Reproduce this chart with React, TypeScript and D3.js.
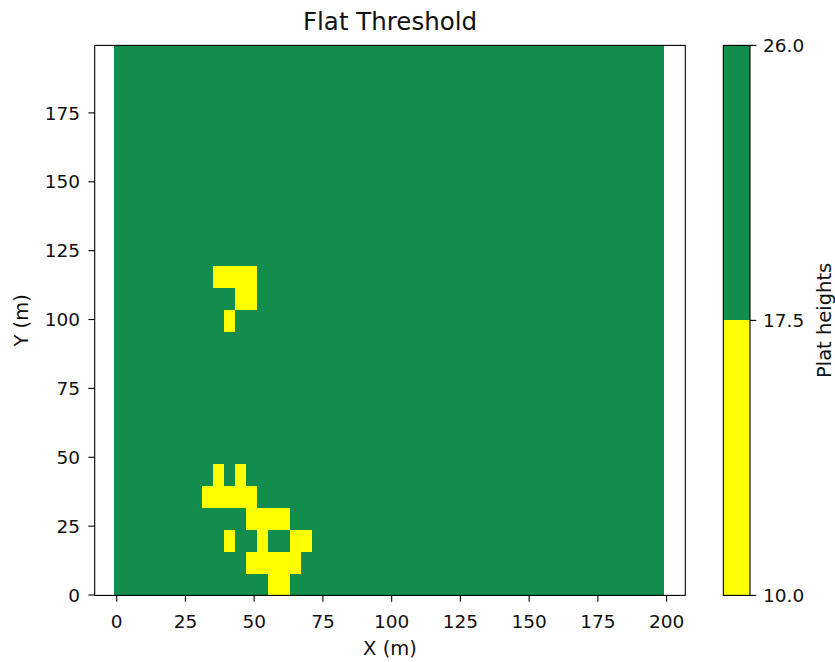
import React from 'react';
import * as d3 from 'd3';

const title = 'Flat Threshold';
const xLabel = 'X (m)';
const yLabel = 'Y (m)';
const cbLabel = 'Plat heights';
const xTicks = [0, 25, 50, 75, 100, 125, 150, 175, 200];
const yTicks = [0, 25, 50, 75, 100, 125, 150, 175];
const cbLevels = [10, 17.5, 26];
const cbColors = ['#ffff00', '#138d4b'];
// grid cell edges (m)
const xEdges = d3.range(-1, 200, 4);
const yEdges = d3.range(-0.5, 200, 8);
// cells below the 17.5 threshold: row index -> column indices
const lowRows = [0, 1, 2, 3, 4, 5, 12, 13, 14];
const lowCols = [
  [14, 15],
  [12, 13, 14, 15, 16],
  [10, 13, 16, 17],
  [12, 13, 14, 15],
  [8, 9, 10, 11, 12],
  [9, 11],
  [10],
  [11, 12],
  [9, 10, 11, 12],
];

const FONT = 'DejaVu Sans, sans-serif';
const TXT = '#111';
const L = 94.7, R = 685.3, T = 45.4, B = 595.4;
const CBL = 723.3, CBR = 750;

export default function App() {
  const x = d3.scaleLinear().domain([-8, 206.8]).range([L, R]);
  const y = d3.scaleLinear().domain([-0.5, 199.5]).range([596.4, T]);
  const cb = d3.scaleLinear().domain([0, cbLevels.length - 1]).range([B, T]);
  const color = d3.scaleThreshold<number, string>().domain([cbLevels[1]]).range(cbColors);

  const lowSet = new Set<string>();
  lowRows.forEach((r, i) => lowCols[i].forEach((c) => lowSet.add(`${r}-${c}`)));
  const cells: { r: number; c: number; v: number }[] = [];
  for (let r = 0; r < yEdges.length - 1; r++) {
    for (let c = 0; c < xEdges.length - 1; c++) {
      cells.push({ r, c, v: lowSet.has(`${r}-${c}`) ? cbLevels[0] : cbLevels[2] });
    }
  }

  return (
    <svg width={835} height={662} style={{ position: 'absolute', left: 0, top: 0, background: '#fff' }} fontFamily={FONT}>
      <defs>
        <clipPath id="axclip">
          <rect x={L} y={T} width={R - L} height={B - T} />
        </clipPath>
      </defs>
      <rect x={0} y={0} width={835} height={662} fill="#fff" />
      <g clipPath="url(#axclip)" shapeRendering="crispEdges">
        {cells.map((d) => (
          <rect
            key={`${d.r}-${d.c}`}
            x={x(xEdges[d.c])}
            y={y(yEdges[d.r + 1])}
            width={x(xEdges[d.c + 1]) - x(xEdges[d.c])}
            height={y(yEdges[d.r]) - y(yEdges[d.r + 1])}
            fill={color(d.v)}
          />
        ))}
      </g>
      <rect x={L} y={T} width={R - L} height={B - T} fill="none" stroke="#000" strokeWidth={1.1} />
      {xTicks.map((t) => (
        <g key={`xt${t}`}>
          <line x1={x(t)} x2={x(t)} y1={B} y2={B + 6.3} stroke="#000" strokeWidth={1.1} />
          <text x={x(t)} y={627.5} textAnchor="middle" fontSize={18.5} fill={TXT}>{t}</text>
        </g>
      ))}
      {yTicks.map((t) => (
        <g key={`yt${t}`}>
          <line x1={L - 6.3} x2={L} y1={y(t)} y2={y(t)} stroke="#000" strokeWidth={1.1} />
          <text x={80} y={y(t)} dy="0.36em" textAnchor="end" fontSize={18.5} fill={TXT}>{t}</text>
        </g>
      ))}
      <text x={(L + R) / 2} y={30} textAnchor="middle" fontSize={24.5} fill={TXT}>{title}</text>
      <text x={(L + R) / 2} y={655} textAnchor="middle" fontSize={19.5} fill={TXT}>{xLabel}</text>
      <text transform={`translate(28,${(T + B) / 2}) rotate(-90)`} textAnchor="middle" fontSize={19.5} fill={TXT}>{yLabel}</text>

      {cbColors.map((c, i) => (
        <rect key={`cb${i}`} x={CBL} y={cb(i + 1)} width={CBR - CBL} height={cb(i) - cb(i + 1)} fill={c} shapeRendering="crispEdges" />
      ))}
      <rect x={CBL} y={T} width={CBR - CBL} height={B - T} fill="none" stroke="#000" strokeWidth={1.1} />
      {cbLevels.map((v, i) => (
        <g key={`cbt${i}`}>
          <line x1={CBR} x2={CBR + 6.3} y1={cb(i)} y2={cb(i)} stroke="#000" strokeWidth={1.1} />
          <text x={763} y={cb(i)} dy="0.36em" fontSize={18.5} fill={TXT}>{v.toFixed(1)}</text>
        </g>
      ))}
      <text transform={`translate(831,${(T + B) / 2}) rotate(-90)`} textAnchor="middle" fontSize={19.5} fill={TXT}>{cbLabel}</text>
    </svg>
  );
}
